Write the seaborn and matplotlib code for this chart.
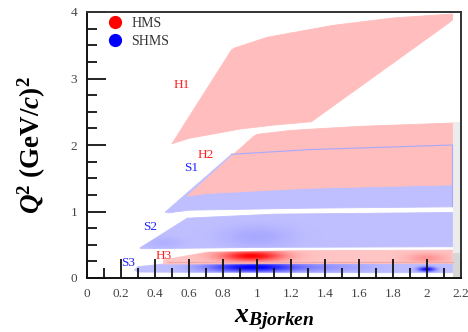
import numpy as np
import matplotlib
matplotlib.use("Agg")
import matplotlib.pyplot as plt
from matplotlib.patches import Polygon
from matplotlib.lines import Line2D
from matplotlib.ticker import MultipleLocator, FixedLocator, FixedFormatter
import seaborn as sns

# ---------------- data (x_Bjorken, Q^2) ----------------
H1_x = [0.50, 0.60, 0.75, 0.90, 1.10, 1.32, 2.12, 2.15, 2.15, 1.80, 1.45, 1.06, 0.87, 0.85]
H1_y = [2.02, 2.10, 2.17, 2.24, 2.30, 2.35, 3.82, 3.88, 3.97, 3.91, 3.80, 3.62, 3.46, 3.43]

H2_x = [0.59, 0.70, 1.30, 2.15, 2.15, 1.60, 1.20, 1.00, 0.98]
H2_y = [1.23, 1.27, 1.35, 1.40, 2.33, 2.28, 2.22, 2.16, 2.13]

S1_x = [0.46, 0.85, 1.30, 2.15, 2.15, 1.30, 0.60, 0.48]
S1_y = [0.99, 1.86, 1.93, 2.00, 1.07, 1.05, 1.02, 0.98]

S2_x = [0.31, 0.59, 1.10, 2.15, 2.15, 1.00, 0.33]
S2_y = [0.45, 0.90, 0.96, 0.985, 0.47, 0.46, 0.44]

S3_x = [0.28, 0.30, 0.45, 1.00, 2.15, 2.15, 1.00, 0.30]
S3_y = [0.12, 0.17, 0.21, 0.23, 0.23, 0.08, 0.08, 0.09]

H3_x = [0.45, 0.45, 0.71, 1.20, 2.15, 2.15, 1.00, 0.45]
H3_y = [0.21, 0.27, 0.39, 0.41, 0.42, 0.22, 0.215, 0.21]

# density cores: (x centre, Q2 centre, x width, Q2 width, strength)
H3_cores = [(0.97, 0.33, 0.13, 0.055, 1.0), (2.00, 0.30, 0.08, 0.05, 0.25)]
S3_cores = [(0.97, 0.16, 0.18, 0.05, 1.0), (2.00, 0.13, 0.035, 0.025, 1.0),
            (1.40, 0.16, 0.20, 0.05, 0.2)]
S2_cores = [(1.00, 0.62, 0.15, 0.12, 0.12), (0.45, 0.53, 0.08, 0.06, 0.08)]

region_labels = ["H1", "H2", "S1", "S2", "S3", "H3"]
label_x = [0.56, 0.70, 0.61, 0.37, 0.24, 0.45]
label_y = [2.90, 1.85, 1.65, 0.77, 0.22, 0.33]
label_colors = ["#ff2020", "#ff2020", "#2020ff", "#2020ff", "#2020ff", "#ff2020"]

x_ticks = [0, 0.2, 0.4, 0.6, 0.8, 1.0, 1.2, 1.4, 1.6, 1.8, 2.0, 2.2]
x_ticklabels = ["0", "0.2", "0.4", "0.6", "0.8", "1", "1.2", "1.4", "1.6", "1.8", "2", "2.2"]
y_ticks = [0, 1, 2, 3, 4]
y_ticklabels = ["0", "1", "2", "3", "4"]

legend_names = ["HMS", "SHMS"]

# ---------------- style ----------------
sns.set_theme(style="white")
plt.rcParams['font.family'] = ['Liberation Serif', 'DejaVu Serif']
plt.rcParams['mathtext.fontset'] = 'custom'
plt.rcParams['mathtext.rm'] = 'Liberation Serif'
plt.rcParams['mathtext.it'] = 'Liberation Serif:italic'
plt.rcParams['mathtext.bf'] = 'Liberation Serif:bold'
plt.rcParams['mathtext.bfit'] = 'Liberation Serif:italic:bold'

PINK = "#ffbdbd"
LBLUE = "#bfbfff"
RED = (1.0, 0.0, 0.0)
BLUE = (0.0, 0.0, 1.0)

fig = plt.figure(figsize=(4.68, 3.32), dpi=100)
ax = fig.add_axes([87/468, 1-278/332, (461-87)/468, (278-12)/332])
ax.set_axisbelow(False)

XMIN, XMAX, YMIN, YMAX = 0, 2.2, 0, 4

# gray background strip at right
ax.fill_between([2.155, 2.2], [0, 0], [2.35, 2.35], color="#ececec", lw=0, zorder=0.5)
ax.fill_between([2.155, 2.2], [0.0, 0.0], [0.38, 0.38], color="#d6d6d6", lw=0, zorder=0.6)


def add_poly(xs, ys, color, z):
    p = Polygon(np.column_stack([xs, ys]), closed=True, facecolor=color,
                edgecolor=color, lw=0.6, joinstyle='round', zorder=z)
    ax.add_patch(p)
    return p


def add_cores(patch, cores, rgb, z):
    gx = np.linspace(XMIN, XMAX, 500)
    gy = np.linspace(0, 1.2, 300)
    X, Y = np.meshgrid(gx, gy)
    a = np.zeros_like(X)
    for cx, cy, sx, sy, amp in cores:
        a += amp * np.exp(-0.5 * (((X - cx) / sx) ** 2 + ((Y - cy) / sy) ** 2))
    img = np.zeros(X.shape + (4,))
    img[..., 0], img[..., 1], img[..., 2] = rgb
    img[..., 3] = np.clip(a, 0, 1)
    im = ax.imshow(img, extent=[XMIN, XMAX, 0, 1.2], origin='lower',
                   aspect='auto', interpolation='bilinear', zorder=z)
    im.set_clip_path(patch)


add_poly(H1_x, H1_y, PINK, 1)
add_poly(S1_x, S1_y, LBLUE, 1)
add_poly(H2_x, H2_y, PINK, 2)
# S1 outline visible through H2
s1_edge_x = [S1_x[1], S1_x[2], S1_x[3], S1_x[4]]
s1_edge_y = [S1_y[1], S1_y[2], S1_y[3], S1_y[4]]
ax.plot(s1_edge_x, s1_edge_y, color="#a8a8ff", lw=0.8, zorder=2.1)

p2 = add_poly(S2_x, S2_y, LBLUE, 1)
add_cores(p2, S2_cores, BLUE, 1.2)
p3 = add_poly(S3_x, S3_y, LBLUE, 1)
add_cores(p3, S3_cores, BLUE, 1.2)
ph3 = add_poly(H3_x, H3_y, "#ffc4c4", 2)
add_cores(ph3, H3_cores, RED, 2.2)
ax.plot([0.47, 2.15], [0.235, 0.235], color="#f0a8a8", lw=0.8, zorder=2.3)

for t, lx, ly, c in zip(region_labels, label_x, label_y, label_colors):
    ax.text(lx, ly, t, color=c, fontsize=9.5, ha='center', va='center', zorder=5)

ax.set_xlim(XMIN, XMAX)
ax.set_ylim(YMIN, YMAX)

ax.xaxis.set_major_locator(FixedLocator(x_ticks))
ax.xaxis.set_major_formatter(FixedFormatter(x_ticklabels))
ax.xaxis.set_minor_locator(MultipleLocator(0.1))
ax.yaxis.set_major_locator(FixedLocator(y_ticks))
ax.yaxis.set_major_formatter(FixedFormatter(y_ticklabels))
ax.yaxis.set_minor_locator(MultipleLocator(0.25))

ax.tick_params(which='both', direction='in', top=False, right=False,
               bottom=True, left=True, color='#111111', labelcolor='#444444',
               labelsize=9.5)
ax.tick_params(which='major', length=13.5, width=1.3, pad=7)
ax.tick_params(which='minor', length=7, width=1.3)

for s in ax.spines.values():
    s.set_color('#333333')
    s.set_linewidth(1.4)
    s.set_zorder(7)
ax.spines['left'].set_color('#111111')
ax.spines['bottom'].set_color('#111111')

ax.set_ylabel(r'$\mathbfit{Q}^{\mathbf{2}}\ \mathbf{(GeV/}\mathbfit{c}\mathbf{)}^{\mathbf{2}}$',
              fontsize=19.5, color='black', labelpad=16)
ax.set_xlabel(r'$\mathbfit{x}_{\mathbfit{Bjorken}}$', fontsize=20, color='black', labelpad=5)

handles = [Line2D([], [], marker='o', ls='', color='#ff0000', markersize=8.5),
           Line2D([], [], marker='o', ls='', color='#0000ff', markersize=8.5)]
leg = ax.legend(handles, legend_names, loc='upper left', bbox_to_anchor=(0.02, 1.03),
                frameon=False, fontsize=10, handletextpad=0.55, labelspacing=0.4,
                handlelength=1.2)
for t in leg.get_texts():
    t.set_color('#333333')

fig.savefig("out.png", dpi=100)
